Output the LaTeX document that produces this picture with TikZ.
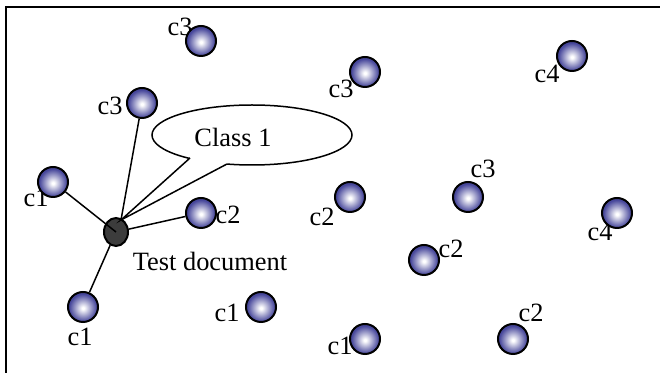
\documentclass[tikz,border=0pt]{standalone}
\usepackage{fontspec}
\setmainfont{Liberation Serif}
\usepackage{tikz}
\usetikzlibrary{shapes.geometric}
\definecolor{ballc}{HTML}{46469A}
\definecolor{docc}{HTML}{3C3C3C}
\pgfdeclareradialshading{sphere}{\pgfpoint{0bp}{-2bp}}{color(0bp)=(white);color(2bp)=(white);color(23bp)=(ballc);color(50bp)=(ballc)}
\tikzset{
  ln/.style={line width=0.75pt,black},
  ball/.style={circle,draw=black,line width=1pt,shading=sphere,minimum size=15pt,inner sep=0pt},
  doc/.style={ellipse,draw=black,line width=1pt,fill=docc,minimum width=12pt,minimum height=14pt,inner sep=0pt},
  lbl/.style={font=\fontsize{13.2}{15}\selectfont,inner sep=0pt}
}

\begin{document}
\begin{tikzpicture}[x=0.5pt,y=-0.5pt]
\useasboundingbox (0,0) rectangle (660,373);
\draw[line width=1pt] (6,373) -- (6,7) -- (660,7);
% labels
\node[lbl] (t1) at (180,27) {c3};
\node[lbl] (t2) at (110,106) {c3};
\node[lbl] (t3) at (341,89) {c3};
\node[lbl] (t4) at (547,74) {c4};
\node[lbl] (t5) at (483,169) {c3};
\node[lbl] (t6) at (322,217) {c2};
\node[lbl] (t7) at (600,232) {c4};
\node[lbl] (t8) at (451,249) {c2};
\node[lbl] (t9) at (340,346) {c1};
\node[lbl] (t10) at (531,313) {c2};
\node[lbl] (t11) at (227,313) {c1};
\node[lbl] (t12) at (80,337) {c1};
\node[lbl] (t13) at (36,198) {c1};
\node[lbl] (t14) at (228,215) {c2};
\node[lbl] (testtxt) at (210,261) {Test document};
% documents
\node[ball] (b1) at (201,41) {};
\node[ball] (b2) at (142,103) {};
\node[ball] (b3) at (365,72) {};
\node[ball] (b4) at (572,56) {};
\node[ball] (b5) at (468,197) {};
\node[ball] (b6) at (350,197) {};
\node[ball] (b7) at (617,213) {};
\node[ball] (b8) at (424,260) {};
\node[ball] (b9) at (365,339) {};
\node[ball] (b10) at (513,339) {};
\node[ball] (b11) at (261,307) {};
\node[ball] (b12) at (83,307) {};
\node[ball] (b13) at (53,182) {};
\node[ball] (b14) at (201,213) {};
\node[doc] (test) at (116,232) {};
\coordinate (hub) at (121,220);
% callout
\node[ellipse,draw=black,line width=0.75pt,fill=white,minimum width=100pt,minimum height=30pt] (callout) at (252,135) {};
\node[lbl] (classtxt) at (233,137) {Class 1};
\coordinate (pa) at (190,158);
\coordinate (pb) at (227,164);
\fill[white] (pa) -- (hub) -- (pb) -- (227,159) -- (190,153) -- cycle;
\draw[ln] (pa) -- (hub) -- (pb);
% neighbours
\draw[ln] (b2) -- (hub);
\draw[ln] (test) -- (b14);
\draw[ln] (test) -- (b12);
\draw[ln] (b13) -- (test.center);
\end{tikzpicture}
\end{document}
